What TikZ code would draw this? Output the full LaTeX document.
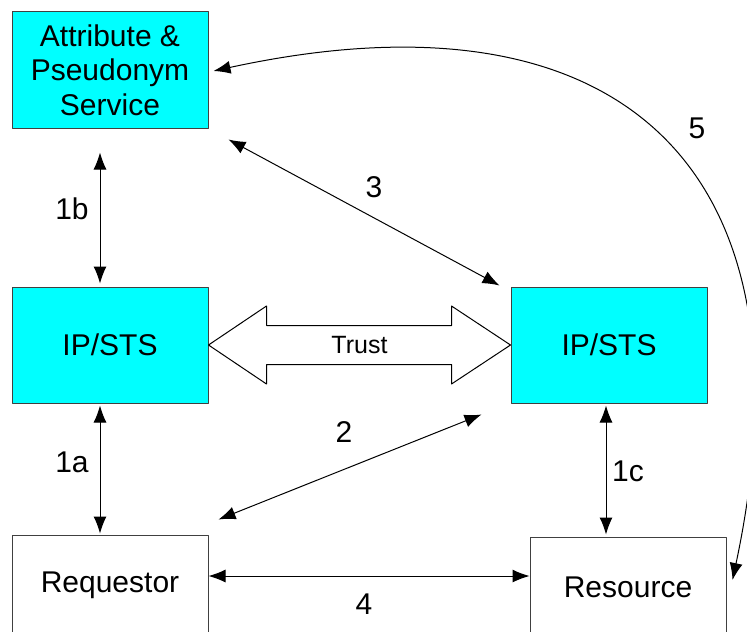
\documentclass[tikz,border=0pt]{standalone}
\usepackage{fontspec}
\setmainfont{Liberation Sans}
\usetikzlibrary{arrows.meta,calc}
\definecolor{boxcyan}{RGB}{0,255,255}

\begin{document}
\begin{tikzpicture}[x=0.5pt, y=-0.5pt, line join=round, >={Latex[length=8.5pt,width=6.5pt]},
  box/.style={draw=black!75, line width=0.5pt, minimum width=98pt, minimum height=58pt,
    inner sep=0pt, align=center, font=\fontsize{15}{17.25}\selectfont},
  cyanbox/.style={box, fill=boxcyan},
  plainbox/.style={box, fill=white, minimum height=50pt},
  link/.style={<->, line width=0.5pt},
  lbl/.style={font=\fontsize{15}{18}\selectfont, inner sep=0pt}]
\useasboundingbox (0,0) rectangle (747,631);
% Cac hop
\node[cyanbox] (aps) at (110,70) {Attribute \&\\Pseudonym\\Service};
\node[cyanbox] (ipl) at (110,345) {IP/STS};
\node[cyanbox] (ipr) at (609,345) {IP/STS};
\node[plainbox] (req) at (110,585) {Requestor};
\node[plainbox] (res) at (628,587) {Resource};
% Mui ten Trust giua hai IP/STS
\draw[line width=0.5pt, fill=white] (ipl.east) -- ++(58,-39) -- ++(0,19.5)
  -- ($(ipr.west)+(-59,-19.5)$) -- ++(0,-19.5) -- (ipr.west) -- ++(-59,39) -- ++(0,-19.5)
  -- ($(ipl.east)+(58,19.5)$) -- ++(0,19.5) -- cycle;
\node[font=\fontsize{12.5}{15}\selectfont] (trust) at ($(ipl.east)!0.5!(ipr.west)$) {Trust};
% Cac buoc 1a, 1b, 1c
\draw[link, shorten <=12pt, shorten >=1.5pt] ([xshift=-5pt]aps.south) -- ([xshift=-5pt]ipl.north);
\draw[link, shorten <=1pt, shorten >=0.5pt] ([xshift=-5pt]ipl.south) -- ([xshift=-5pt]req.north);
\draw[link, shorten <=1pt, shorten >=1pt] ([xshift=-1.5pt]ipr.south) -- ([xshift=-11pt]res.north);
% Cac buoc 2, 3, 4
\draw[link] ($(aps.south east)+(20,11)$) -- ($(ipr.north west)+(-11,-1)$);
\draw[link] ($(req.north east)+(10,-15)$) -- ($(ipr.south west)+(-29,11)$);
\draw[link] ($(req.east)+(0,-9)$) -- ($(res.west)+(0,-11)$);
% Buoc 5: cung cong
\draw[link] ($(aps.east)+(5,1)$) .. controls (623,-18) and (820,169) .. ($(res.east)+(6,-7)$);
% Nhan
\node[lbl] (l1b) at (72,209) {1b};
\node[lbl] (l1a) at (72,462) {1a};
\node[lbl] (l1c) at (628,471) {1c};
\node[lbl] (l3) at (374,187) {3};
\node[lbl] (l2) at (344,432) {2};
\node[lbl] (l4) at (364,604) {4};
\node[lbl] (l5) at (697,128) {5};
\end{tikzpicture}
\end{document}
